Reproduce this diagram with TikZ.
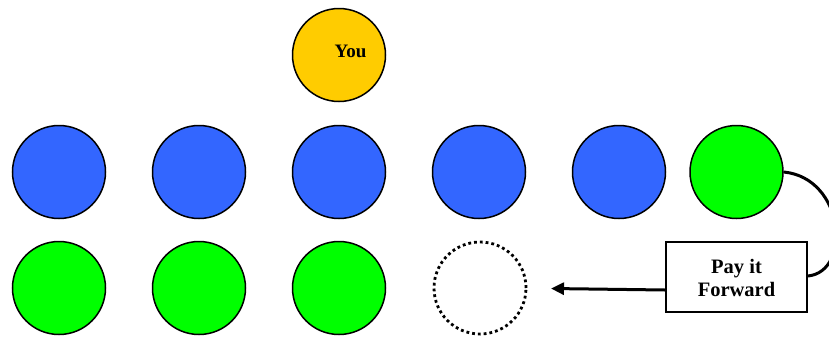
\documentclass[tikz,border=0pt]{standalone}
\usepackage{fontspec}
\setmainfont{Liberation Serif}
\usetikzlibrary{arrows.meta}
\definecolor{cblue}{HTML}{3366FF}
\definecolor{cgreen}{HTML}{00FF00}
\definecolor{cyellow}{HTML}{FFCC00}
\tikzset{
  disc/.style={circle, draw=black, line width=1.5pt, minimum size=93pt, inner sep=0pt},
  bluedisc/.style={disc, fill=cblue},
  greendisc/.style={disc, fill=cgreen},
  emptydisc/.style={circle, draw=black, line width=2.8pt, dash pattern=on 2.8pt off 3pt, minimum size=92pt, inner sep=0pt},
  youlabel/.style={font=\bfseries\fontsize{19}{22}\selectfont},
  label/.style={font=\bfseries\fontsize{20.5}{23}\selectfont, align=center},
  pifbox/.style={draw=black, line width=1.5pt, fill=white, minimum width=141pt, minimum height=70pt, inner sep=0pt},
  conn/.style={line width=3pt, black}
}
\begin{document}
\begin{tikzpicture}[x=1pt,y=-1pt]
\useasboundingbox (0,0) rectangle (829,338);
\node[disc, fill=cyellow] (you) at (339,55) {};
\node[youlabel] (youtxt) at (350.5,51) {You};
\node[bluedisc] (b1) at (59,172) {};
\node[bluedisc] (b2) at (199,172) {};
\node[bluedisc] (b3) at (339,172) {};
\node[bluedisc] (b4) at (479,172) {};
\node[bluedisc] (b5) at (619,172) {};
\node[greendisc] (g0) at (736.5,172) {};
\node[greendisc] (g1) at (59,288) {};
\node[greendisc] (g2) at (199,288) {};
\node[greendisc] (g3) at (339,288) {};
\node[emptydisc] (e) at (480,288) {};
\node[pifbox] (pif) at (736.5,277) {};
\node[label] (piftxt) at (736.5,277.5) {Pay it\\Forward};
\coordinate (tip) at (551,288.5);
\draw[conn] (g0.east) .. controls (845,178) and (852,272) .. (pif.east |- 0,276);
\draw[conn, -{Triangle[length=13pt,width=12pt]}] (pif.west |- 0,290) -- (tip);
\end{tikzpicture}
\end{document}
